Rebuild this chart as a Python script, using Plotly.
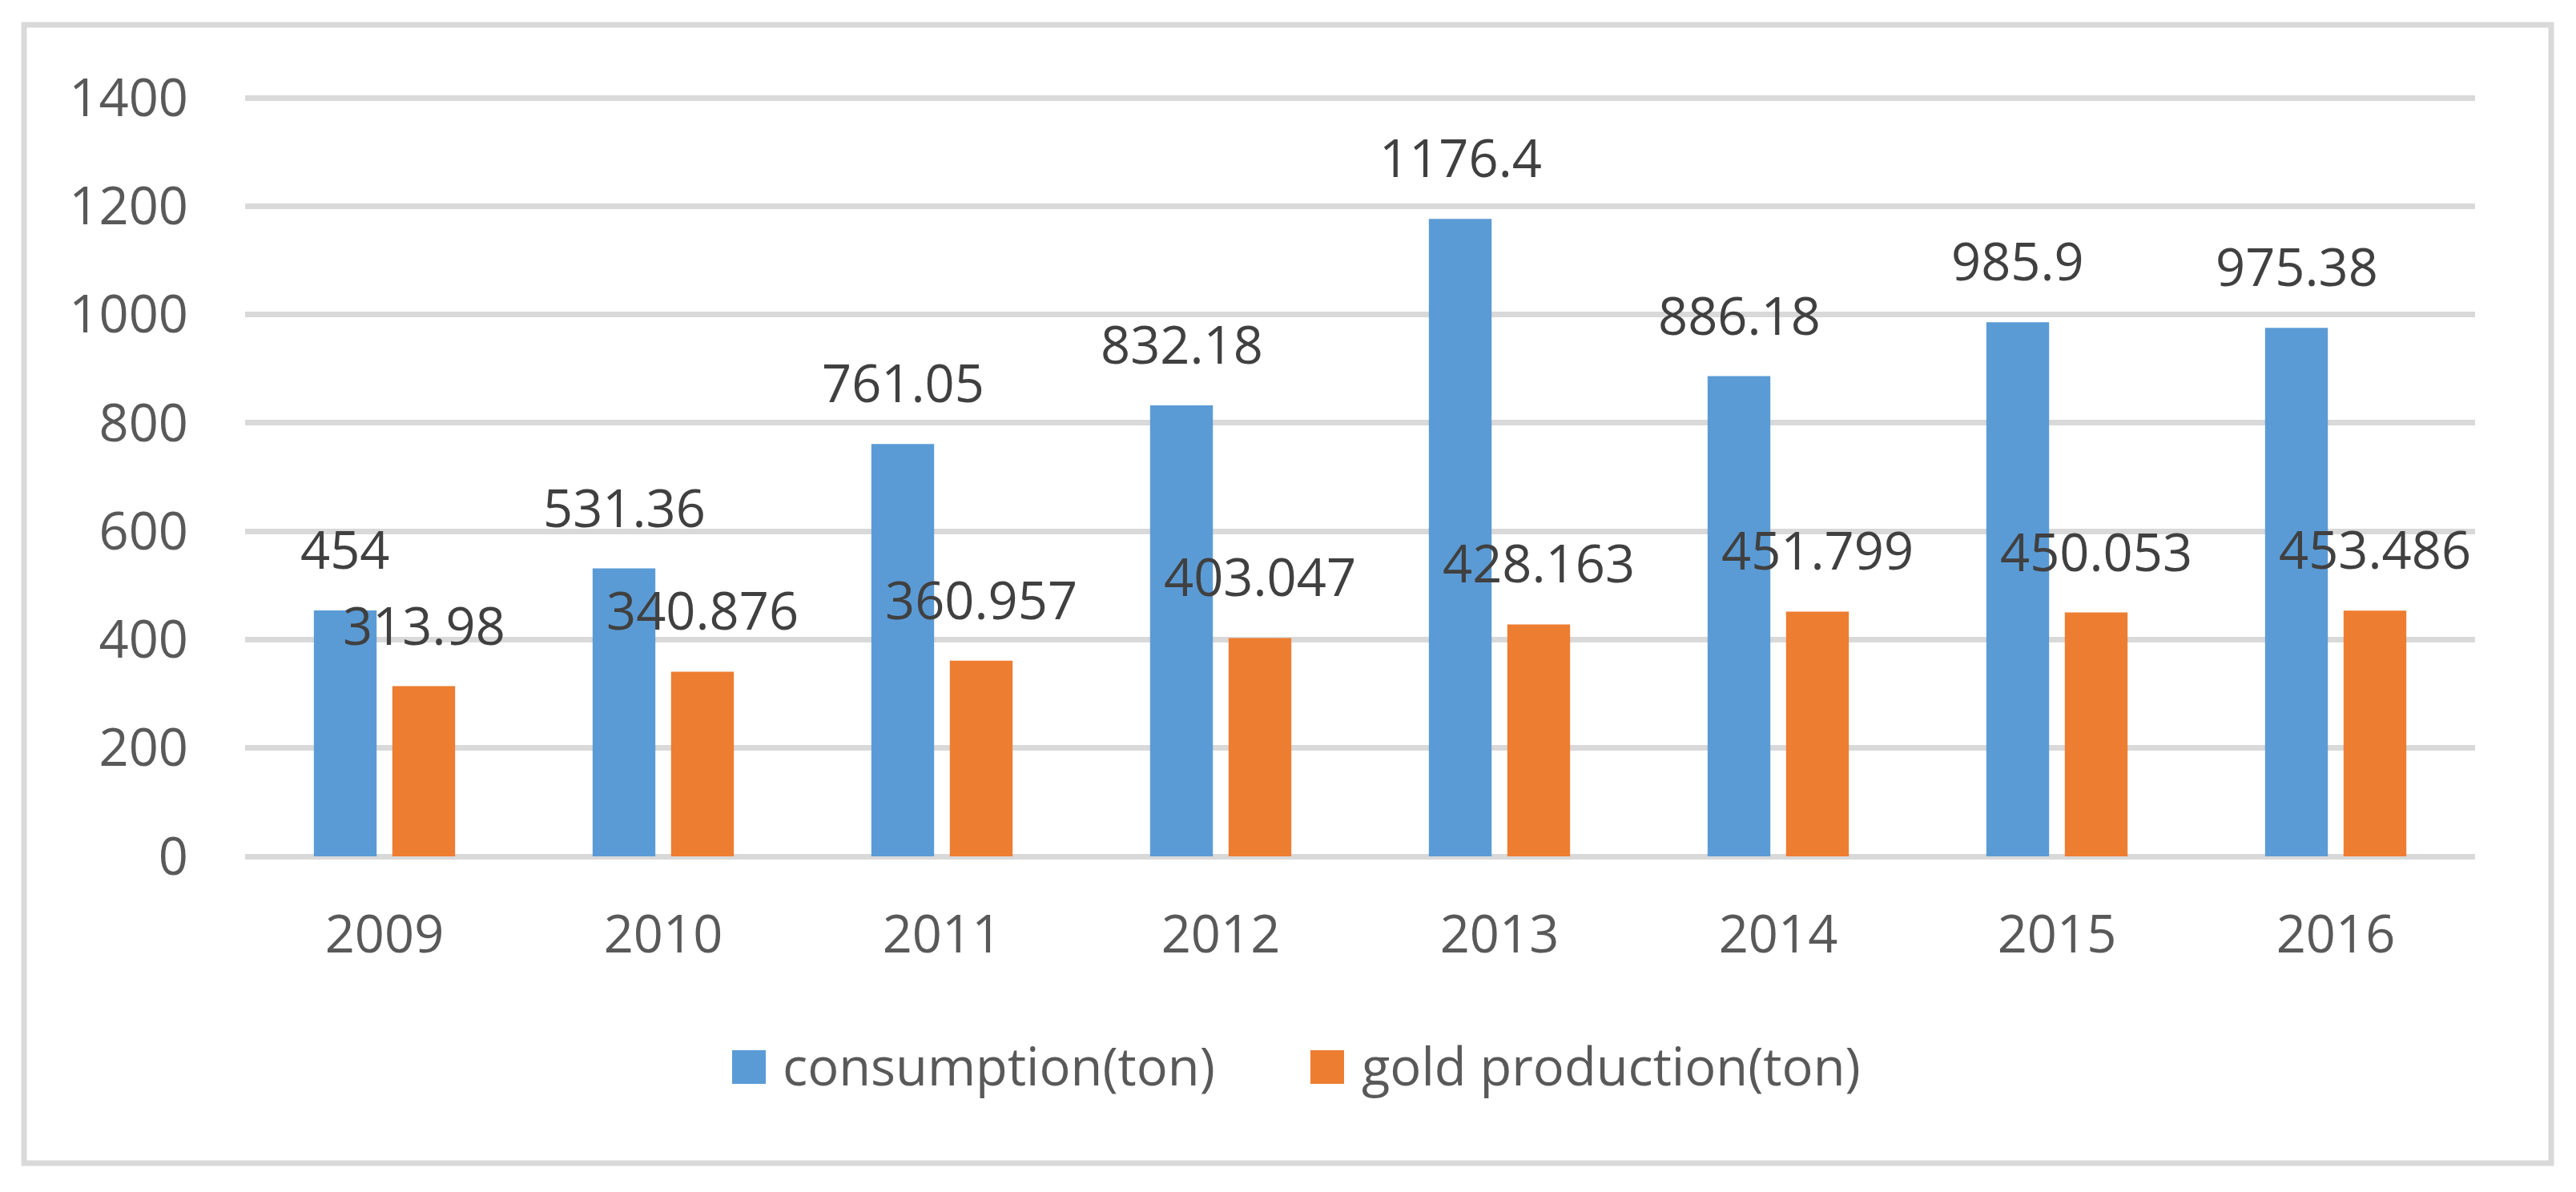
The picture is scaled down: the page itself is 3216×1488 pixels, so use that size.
import plotly.graph_objects as go

# ---- data ----
years = ["2009", "2010", "2011", "2012", "2013", "2014", "2015", "2016"]
consumption = [454, 531.36, 761.05, 832.18, 1176.4, 886.18, 985.9, 975.38]
production = [313.98, 340.876, 360.957, 403.047, 428.163, 451.799, 450.053, 453.486]
series_names = ["consumption(ton)", "gold production(ton)"]
consumption_labels = ["454", "531.36", "761.05", "832.18", "1176.4", "886.18", "985.9", "975.38"]
production_labels = ["313.98", "340.876", "360.957", "403.047", "428.163", "451.799", "450.053", "453.486"]
y_ticks = [0, 200, 400, 600, 800, 1000, 1200, 1400]

# ---- layout (pixel positions in the 3216x1488 page; page body has an 8px margin) ----
OFF = 8
PAGE_W, PAGE_H = 3216, 1488
W, H = PAGE_W - OFF, PAGE_H - OFF
Y_TOP_VAL = 1403            # a little above 1400 so the top gridline is drawn
PX_Y0, PX_Y1400 = 1069, 122  # page pixels of value 0 and 1400
SCALE = (PX_Y0 - PX_Y1400) / 1400.0
PLOT_LEFT, PLOT_RIGHT = 306, 3090
PLOT_TOP = PX_Y0 - Y_TOP_VAL * SCALE
L = PLOT_LEFT - OFF
R = W - (PLOT_RIGHT - OFF)
T = PLOT_TOP - OFF
B = H - (PX_Y0 - OFF)
PW, PH = W - L - R, H - T - B

BLUE, ORANGE = "#5B9BD5", "#ED7D31"
GRID = "#D9D9D9"
TICKC = "#595959"
LABC = "#404040"
FONT = "Open Sans"
FS = 65


def px_x(px):
    return (px - OFF - L) / PW


def px_y(py):
    return (H - B - (py - OFF)) / PH


fig = go.Figure()
fig.add_trace(go.Bar(x=years, y=consumption, name=series_names[0],
                     marker=dict(color=BLUE, line=dict(width=0)), showlegend=False))
fig.add_trace(go.Bar(x=years, y=production, name=series_names[1],
                     marker=dict(color=ORANGE, line=dict(width=0)), showlegend=False))

annotations = []
for i, (v, t) in enumerate(zip(consumption, consumption_labels)):
    annotations.append(dict(x=i, y=v, text=t, xref="x", yref="y", showarrow=False,
                            xanchor="center", yanchor="bottom", xshift=-49, yshift=31,
                            font=dict(family=FONT, size=FS, color=LABC)))
for i, (v, t) in enumerate(zip(production, production_labels)):
    annotations.append(dict(x=i, y=v, text=t, xref="x", yref="y", showarrow=False,
                            xanchor="center", yanchor="bottom", xshift=49, yshift=31,
                            font=dict(family=FONT, size=FS, color=LABC)))

# manual legend (marker squares + text)
legend_items = [(series_names[0], BLUE, 914, 975), (series_names[1], ORANGE, 1636, 1698)]
shapes = []
for name, col, mx, tx in legend_items:
    shapes.append(dict(type="rect", xref="paper", yref="paper",
                       x0=px_x(mx), x1=px_x(mx + 42), y0=px_y(1353), y1=px_y(1311),
                       fillcolor=col, line=dict(width=0)))
    annotations.append(dict(x=px_x(tx), y=px_y(1330), xref="paper", yref="paper",
                            text=name, showarrow=False, xanchor="left", yanchor="middle",
                            font=dict(family=FONT, size=FS, color=TICKC)))

# outer chart border
shapes.append(dict(type="rect", xref="paper", yref="paper", layer="below",
                   x0=px_x(30), x1=px_x(3185), y0=px_y(1452), y1=px_y(31),
                   line=dict(color=GRID, width=7), fillcolor="rgba(0,0,0,0)"))

fig.update_layout(
    width=W, height=H,
    margin=dict(l=L, r=R, t=T, b=B, pad=0),
    paper_bgcolor="white", plot_bgcolor="white",
    barmode="group", bargap=0.437, bargroupgap=0.2,
    font=dict(family=FONT, size=FS, color=TICKC),
    showlegend=False,
    annotations=annotations,
    shapes=shapes,
    xaxis=dict(type="category", range=[-0.5, len(years) - 0.5], showgrid=False,
               zeroline=False, showline=False, ticks="", ticklabelstandoff=54,
               tickfont=dict(family=FONT, size=FS, color=TICKC)),
    yaxis=dict(range=[0, Y_TOP_VAL], tickvals=y_ticks, showgrid=True, gridcolor=GRID,
               gridwidth=7, zeroline=True, zerolinecolor=GRID, zerolinewidth=7,
               showline=False, ticks="", ticklabelstandoff=70,
               tickfont=dict(family=FONT, size=FS, color=TICKC)),
)

fig.write_html("out.html")
